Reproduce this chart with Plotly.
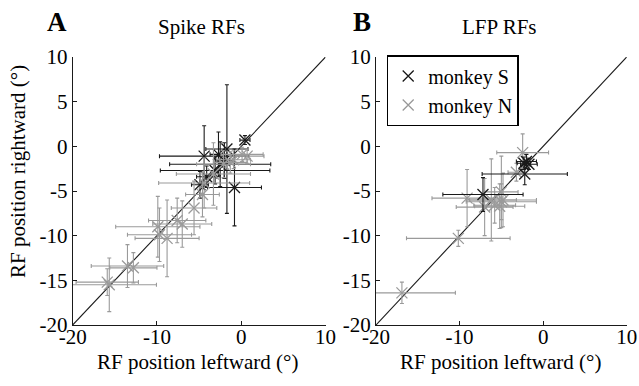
import plotly.graph_objects as go

# ---------------- data ----------------
# Panel A (Spike RFs)
a_s_x = [0.44, -1.7, -4.4, -0.8, -2.5, -3.1, -4.9, -4.1, -2.0, -2.7]
a_s_y = [0.7, -0.3, -1.1, -4.6, -2.0, -2.7, -4.3, -3.4, -1.6, -0.9]
a_s_xerr = [0.6, 2.5, 5.3, 3.2, 6.0, 6.5, 1.0, 1.2, 1.0, 1.0]
a_s_yerr = [0.5, 7.2, 3.4, 4.3, 2.5, 1.5, 1.5, 1.2, 2.0, 2.5]

a_n_x = [-15.66, -15.9, -13.5, -12.8, -9.9, -9.7, -8.8, -7.6, -7.0, -5.6,
         -4.6, -4.4, -3.3, -2.1, -1.3, -0.9, 0.1, 0.7]
a_n_y = [-15.5, -15.2, -13.4, -13.6, -9.0, -9.9, -10.3, -8.3, -8.7, -6.9,
         -5.4, -4.1, -3.1, -2.0, -1.8, -1.5, -0.9, -1.1]
a_n_xerr = [5.6, 3.7, 4.3, 2.8, 5.0, 3.8, 3.8, 3.4, 3.5, 2.7,
            2.0, 5.4, 4.4, 3.2, 2.0, 2.0, 2.5, 2.0]
a_n_yerr = [3.0, 1.5, 2.4, 1.7, 3.4, 3.0, 4.3, 2.5, 2.6, 3.0,
            2.5, 2.8, 3.5, 1.5, 1.2, 1.0, 0.8, 0.8]

# Panel B (LFP RFs)
b_s_x = [-2.0, -1.7, -2.3, -2.2, -7.2]
b_s_y = [-1.7, -2.0, -1.9, -3.1, -5.4]
b_s_xerr = [1.2, 1.0, 0.8, 5.1, 4.8]
b_s_yerr = [0.8, 0.6, 0.7, 1.2, 1.9]

b_n_x = [-16.9, -10.15, -9.1, -7.0, -6.2, -5.8, -5.0, -4.8, -5.2, -3.2, -2.45, -5.0]
b_n_y = [-16.4, -10.3, -5.8, -6.8, -6.0, -6.6, -5.1, -6.0, -6.7, -2.9, -0.7, -6.2]
b_n_xerr = [6.4, 6.2, 4.2, 3.4, 3.0, 2.5, 2.0, 4.0, 3.0, 1.0, 3.1, 4.2]
b_n_yerr = [1.2, 0.9, 3.2, 3.2, 4.6, 2.0, 4.0, 3.0, 2.5, 1.0, 2.1, 2.0]

identity = [-20, 10]
x_ticks = [-20, -10, 0, 10]
x_ticktext = ["-20", "-10", "0", "10"]
y_ticks = [-20, -15, -10, -5, 0, 5, 10]
y_ticktext = ["-20", "-15", "-10", "-5", "0", "5", "10"]

series_names = ["monkey S", "monkey N"]
panel_titles = ["Spike RFs", "LFP RFs"]
panel_letters = ["A", "B"]
x_title = "RF position leftward (°)"
y_title = "RF position rightward (°)"

# ---------------- style ----------------
FONT = "Liberation Serif, Times New Roman, DejaVu Serif, serif"
BLACK = "#1a1a1a"
GRAY = "#9a9a9a"
W, H = 639, 386

fig = go.Figure()


def add_series(x, y, xe, ye, color, name, xa, ya, show):
    fig.add_trace(go.Scatter(
        x=x, y=y, mode="markers", name=name, showlegend=show,
        legendgroup=name,
        marker=dict(symbol="x-thin-open", size=11, color=color,
                    line=dict(color=color, width=1.3)),
        error_x=dict(type="data", array=xe, visible=True, color=color,
                     thickness=1.1, width=2),
        error_y=dict(type="data", array=ye, visible=True, color=color,
                     thickness=1.1, width=2),
        xaxis=xa, yaxis=ya,
    ))


for xa, ya in [("x", "y"), ("x2", "y2")]:
    fig.add_trace(go.Scatter(x=identity, y=identity, mode="lines",
                             line=dict(color=BLACK, width=1.1),
                             showlegend=False, hoverinfo="skip",
                             xaxis=xa, yaxis=ya))

add_series(a_s_x, a_s_y, a_s_xerr, a_s_yerr, BLACK, series_names[0], "x", "y", False)
add_series(a_n_x, a_n_y, a_n_xerr, a_n_yerr, GRAY, series_names[1], "x", "y", False)
add_series(b_n_x, b_n_y, b_n_xerr, b_n_yerr, GRAY, series_names[1], "x2", "y2", True)
add_series(b_s_x, b_s_y, b_s_xerr, b_s_yerr, BLACK, series_names[0], "x2", "y2", True)

# axes geometry (pixels)
ax_a = (72.7, 325.5)
ax_b = (376.0, 626.7)
ay = (57.0, 325.0)

common_axis = dict(
    showline=True, linecolor=BLACK, linewidth=1.1, mirror=False,
    ticks="inside", ticklen=4, tickwidth=1, tickcolor=BLACK,
    showgrid=False, zeroline=False, automargin=False,
    tickfont=dict(family=FONT, size=21, color="black"),
    range=[-20, 10], fixedrange=True,
)
x_extra = dict(ticklabelstandoff=-7)

fig.update_layout(
    width=W, height=H,
    margin=dict(l=0, r=0, t=0, b=0, autoexpand=False),
    paper_bgcolor="white", plot_bgcolor="white",
    xaxis=dict(domain=[ax_a[0] / W, ax_a[1] / W], anchor="y",
               tickvals=x_ticks, ticktext=x_ticktext, **common_axis, **x_extra),
    yaxis=dict(domain=[1 - ay[1] / H, 1 - ay[0] / H], anchor="x",
               tickvals=y_ticks, ticktext=y_ticktext, **common_axis),
    xaxis2=dict(domain=[ax_b[0] / W, ax_b[1] / W], anchor="y2",
                tickvals=x_ticks, ticktext=x_ticktext, **common_axis, **x_extra),
    yaxis2=dict(domain=[1 - ay[1] / H, 1 - ay[0] / H], anchor="x2",
                tickvals=y_ticks, ticktext=y_ticktext, **common_axis),
    showlegend=True,
    legend=dict(x=386.7 / W, y=1 - 55 / H, xanchor="left", yanchor="top",
                bgcolor="white", bordercolor="black", borderwidth=1.5,
                font=dict(family=FONT, size=20, color="black"),
                traceorder="reversed", itemwidth=30,
                tracegroupgap=0),
    font=dict(family=FONT, color="black"),
)

annotations = [
    dict(text="<b>%s</b>" % panel_letters[0], x=57.5 / W, y=1 - 22 / H,
         font=dict(size=27)),
    dict(text=panel_titles[0], x=201.7 / W, y=1 - 27 / H, font=dict(size=21)),
    dict(text="<b>%s</b>" % panel_letters[1], x=362 / W, y=1 - 22 / H,
         font=dict(size=27)),
    dict(text=panel_titles[1], x=499.5 / W, y=1 - 27 / H, font=dict(size=21)),
    dict(text=x_title, x=198 / W, y=1 - 362 / H, font=dict(size=21)),
    dict(text=x_title, x=500 / W, y=1 - 362 / H, font=dict(size=21)),
    dict(text=y_title, x=18 / W, y=1 - 172 / H, textangle=-90, font=dict(size=21)),
]
for a in annotations:
    a.update(xref="paper", yref="paper", showarrow=False,
             xanchor="center", yanchor="middle")
    a["font"].update(family=FONT, color="black")
fig.update_layout(annotations=annotations)

fig.write_html("out.html")
